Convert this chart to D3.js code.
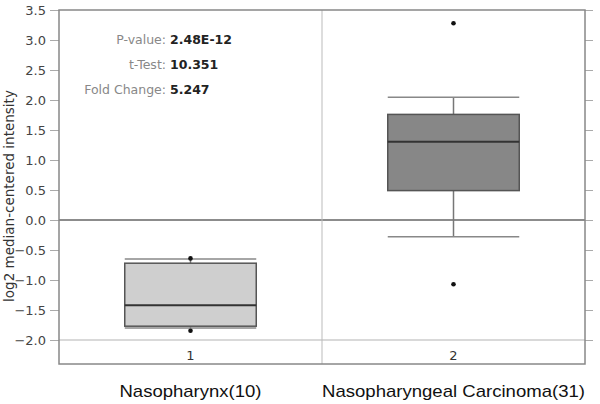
<!DOCTYPE html>
<html lang="en">
<head>
    <meta charset="UTF-8">
    <title>Box plot</title>
    <script src="https://d3js.org/d3.v7.min.js"></script>
    <style>
        body { margin: 0; background: #fff; }
        svg { display: block; }
    </style>
</head>
<body>
    <svg width="600" height="404"></svg>
    <script>
        // data
        const groups = ["1", "2"];
        const groupNames = ["Nasopharynx(10)", "Nasopharyngeal Carcinoma(31)"];
        const q1 = [-1.77, 0.49];
        const median = [-1.42, 1.305];
        const q3 = [-0.72, 1.76];
        const whiskLo = [-1.80, -0.28];
        const whiskHi = [-0.65, 2.045];
        const outliers = [[-0.64, -1.845], [3.28, -1.07]];
        const boxFill = ["#cfcfcf", "#878787"];
        const yTicks = [3.5, 3.0, 2.5, 2.0, 1.5, 1.0, 0.5, 0.0, -0.5, -1.0, -1.5, -2.0];
        const statLabels = ["P-value:", "t-Test:", "Fold Change:"];
        const statValues = ["2.48E-12", "10.351", "5.247"];

        const svg = d3.select("svg");
        const plot = { left: 59, right: 585, top: 10, bottom: 364 };

        const y = d3.scaleLinear().domain([-2.4, 3.5]).range([plot.bottom, plot.top]);
        const x = d3.scaleBand().domain(groups).range([plot.left, plot.right]);

        // left axis
        const yAxis = svg.append("g")
            .attr("transform", `translate(${plot.left},0)`)
            .call(d3.axisLeft(y).tickValues(yTicks).tickFormat(d3.format(".1f")).tickSize(9).tickPadding(4));
        yAxis.select(".domain").remove();
        yAxis.selectAll("line").attr("stroke", "#aaa");
        yAxis.selectAll("text").attr("fill", "#444").style("font-family", "DejaVu Sans").style("font-size", "13px")
            .text(d => d3.format(".1f")(d).replace("-", "\u2212"));

        // right ticks
        const yAxisR = svg.append("g")
            .attr("transform", `translate(${plot.right},0)`)
            .call(d3.axisRight(y).tickValues(yTicks).tickSize(8).tickFormat(""));
        yAxisR.select(".domain").remove();
        yAxisR.selectAll("line").attr("stroke", "#aaa");

        // -2.0 reference line
        svg.append("line")
            .attr("x1", plot.left).attr("x2", plot.right)
            .attr("y1", y(-2)).attr("y2", y(-2))
            .attr("stroke", "#ccc").attr("stroke-width", 1.5);

        // zero line
        svg.append("line")
            .attr("x1", plot.left).attr("x2", plot.right)
            .attr("y1", y(0)).attr("y2", y(0))
            .attr("stroke", "#666").attr("stroke-width", 1.5);

        // divider between groups
        svg.append("line")
            .attr("x1", x("2")).attr("x2", x("2"))
            .attr("y1", plot.top).attr("y2", plot.bottom)
            .attr("stroke", "#bbb").attr("stroke-width", 1);

        // frame
        svg.append("rect")
            .attr("x", plot.left).attr("y", plot.top)
            .attr("width", plot.right - plot.left).attr("height", plot.bottom - plot.top)
            .attr("fill", "none").attr("stroke", "#888").attr("stroke-width", 1.5);

        const bw = x.bandwidth() / 2;
        const nameWidths = [142, 263];

        groups.forEach((g, i) => {
            const cx = x(g) + x.bandwidth() / 2;
            const gr = svg.append("g");
            // whisker stems
            gr.append("line").attr("x1", cx).attr("x2", cx)
                .attr("y1", y(whiskHi[i])).attr("y2", y(q3[i]))
                .attr("stroke", "#777").attr("stroke-width", 1.5);
            gr.append("line").attr("x1", cx).attr("x2", cx)
                .attr("y1", y(q1[i])).attr("y2", y(whiskLo[i]))
                .attr("stroke", "#777").attr("stroke-width", 1.5);
            // caps
            [whiskHi[i], whiskLo[i]].forEach(v => {
                gr.append("line").attr("x1", cx - bw / 2).attr("x2", cx + bw / 2)
                    .attr("y1", y(v)).attr("y2", y(v))
                    .attr("stroke", "#888").attr("stroke-width", 1.5);
            });
            // box
            gr.append("rect")
                .attr("x", cx - bw / 2).attr("width", bw)
                .attr("y", y(q3[i])).attr("height", y(q1[i]) - y(q3[i]))
                .attr("fill", boxFill[i]).attr("stroke", "#555").attr("stroke-width", 1.5);
            // median
            gr.append("line").attr("x1", cx - bw / 2).attr("x2", cx + bw / 2)
                .attr("y1", y(median[i])).attr("y2", y(median[i]))
                .attr("stroke", "#333").attr("stroke-width", 2);
            // outliers
            gr.selectAll("circle").data(outliers[i]).enter().append("circle")
                .attr("cx", cx).attr("cy", d => y(d)).attr("r", 2.3).attr("fill", "#111");
            // group number
            svg.append("text").attr("x", cx).attr("y", 360)
                .attr("text-anchor", "middle")
                .style("font-family", "DejaVu Sans").style("font-size", "13px")
                .attr("fill", "#333").text(g);
            // group name
            svg.append("text").attr("x", cx).attr("y", 397)
                .attr("text-anchor", "middle")
                .attr("textLength", nameWidths[i]).attr("lengthAdjust", "spacingAndGlyphs")
                .style("font-family", "Liberation Sans, Arial").style("font-size", "17px")
                .attr("fill", "#111").text(groupNames[i]);
        });

        // stats
        statLabels.forEach((s, i) => {
            svg.append("text").attr("x", 166).attr("y", 44 + i * 25)
                .attr("text-anchor", "end")
                .style("font-family", "DejaVu Sans").style("font-size", "12.5px")
                .attr("fill", "#888").text(s);
            svg.append("text").attr("x", 170).attr("y", 44 + i * 25)
                .style("font-family", "DejaVu Sans").style("font-size", "12.5px")
                .style("font-weight", "600")
                .attr("fill", "#222").text(statValues[i]);
        });

        // y label
        svg.append("text")
            .attr("transform", "translate(14,196) rotate(-90)")
            .attr("text-anchor", "middle")
            .style("font-family", "DejaVu Sans").style("font-size", "13.5px")
            .attr("fill", "#333").text("log2 median-centered intensity");
    </script>
</body>
</html>
